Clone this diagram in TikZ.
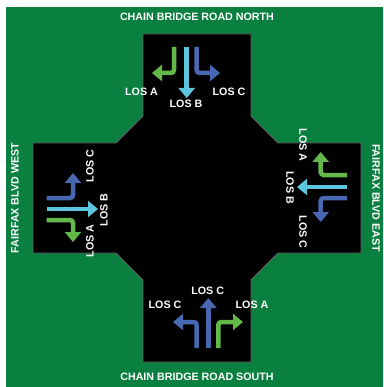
\documentclass[tikz,border=0pt]{standalone}
\usepackage{fontspec}
\setmainfont{Liberation Sans}
\usetikzlibrary{arrows.meta}
\definecolor{bg}{RGB}{10,128,64}
\definecolor{agreen}{RGB}{98,184,72}
\definecolor{acyan}{RGB}{92,198,222}
\definecolor{ablue}{RGB}{72,104,178}
\definecolor{edge}{RGB}{100,100,100}
\begin{document}
\begin{tikzpicture}[x=1pt,y=-1pt,
  lbl/.style={text=white,font=\fontsize{10.7}{12}\selectfont\bfseries,inner sep=0pt},
  arr/.style={line width=4.5pt,rounded corners=3pt,-{Triangle[length=10pt,width=16pt]}},
]
\useasboundingbox (0,0) rectangle (383,387);
\fill[bg] (6,7) rectangle (383,387);
\filldraw[fill=black,draw=edge,line width=0.8pt]
  (143,34) -- (251,34) -- (251,116) -- (278,143) -- (361,143) -- (361,253)
  -- (278,253) -- (251,280) -- (251,362) -- (143,362) -- (143,280)
  -- (116,253) -- (33,253) -- (33,143) -- (116,143) -- (143,116) -- cycle;

% titles
\node[lbl] (tn) at (197,16.7) {CHAIN BRIDGE ROAD NORTH};
\node[lbl] (ts) at (197,376.7) {CHAIN BRIDGE ROAD SOUTH};
\node[lbl,rotate=90] (tw) at (15,198) {FAIRFAX BLVD WEST};
\node[lbl,rotate=-90] (te) at (376,198) {FAIRFAX BLVD EAST};

% north approach
\draw[arr,agreen] (174,47) -- (174,73) -- (152,73);
\draw[arr,acyan] (186.7,47) -- (186.7,98);
\draw[arr,ablue] (196.7,47) -- (196.7,73) -- (220,73);
\node[lbl] (na) at (141.5,92) {LOS A};
\node[lbl] (nb) at (186,103.5) {LOS B};
\node[lbl] (nc) at (229,92) {LOS C};

% west approach
\draw[arr,ablue] (46.7,198) -- (73,198) -- (73,173);
\draw[arr,acyan] (46.7,209) -- (98,209);
\draw[arr,agreen] (46.7,220) -- (73,220) -- (73,242);
\node[lbl,rotate=90] (wc) at (90,166) {LOS C};
\node[lbl,rotate=90] (wb) at (104,210) {LOS B};
\node[lbl,rotate=90] (wa) at (90,241) {LOS A};

% east approach
\draw[arr,agreen] (347,175) -- (320.7,175) -- (320.7,152);
\draw[arr,acyan] (347,187) -- (297,187);
\draw[arr,ablue] (347,198) -- (320.7,198) -- (320.7,222);
\node[lbl,rotate=-90] (ea) at (303,145) {LOS A};
\node[lbl,rotate=-90] (eb) at (290,187.5) {LOS B};
\node[lbl,rotate=-90] (ec) at (303,232) {LOS C};

% south approach
\draw[arr,ablue] (196.7,348) -- (196.7,322) -- (173,322);
\draw[arr,ablue] (208.3,348) -- (208.3,298);
\draw[arr,agreen] (218.3,348) -- (218.3,322) -- (243,322);
\node[lbl] (sl) at (165,305) {LOS C};
\node[lbl] (sm) at (207.7,290.7) {LOS C};
\node[lbl] (sr) at (252,305) {LOS A};
\end{tikzpicture}
\end{document}
